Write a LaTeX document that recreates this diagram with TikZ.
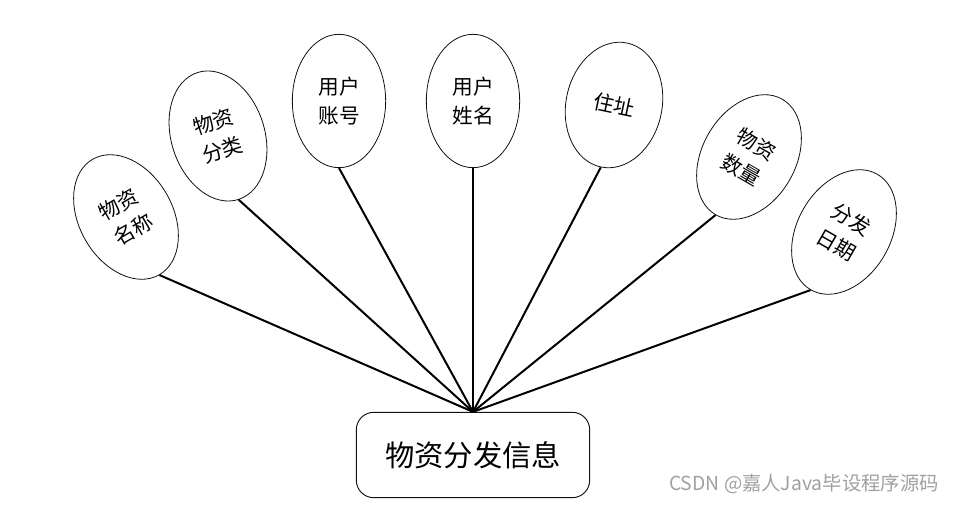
\documentclass[tikz,border=0pt]{standalone}
\usepackage{fontspec}
\newfontfamily\cjk{Noto Sans CJK SC}
\usetikzlibrary{shapes.geometric, positioning}
\definecolor{cline}{HTML}{111111}
\definecolor{cmark}{HTML}{A0A0A0}
\tikzset{
  every picture/.style={x=0.75pt, y=-0.75pt},
  attr/.style={ellipse, draw=cline, line width=0.6pt, fill=white, inner sep=0pt,
    minimum width=70pt, minimum height=100pt, align=center,
    font=\cjk\fontsize{15.5}{22}\selectfont},
  entity/.style={draw=cline, line width=0.7pt, rounded corners=13pt, fill=white,
    minimum width=175pt, minimum height=64pt, font=\cjk\fontsize{22}{26}\selectfont},
  link/.style={draw=black, line width=1.5pt},
  wmark/.style={font=\cjk\fontsize{14.5}{17}\selectfont, text=cmark, inner sep=0pt},
}

\begin{document}
\begin{tikzpicture}
  \useasboundingbox (0,0) rectangle (953,505);
  % central entity
  \node[entity] (info) at (473,455) {物资分发信息};
  % attributes, left to right
  \node[attr, rotate=30]  (name)  at (126,217) {物资\\名称};
  \node[attr, rotate=18]  (kind)  at (218,136) {物资\\分类};
  \node[attr]             (acct)  at (339,101) {用户\\账号};
  \node[attr]             (uname) at (473,101) {用户\\姓名};
  \node[attr, rotate=-12, minimum width=72pt, minimum height=95pt] (addr) at (614,105) {住址};
  \node[attr, rotate=-30] (qty)   at (749,157) {物资\\数量};
  \node[attr, rotate=-30] (date)  at (844,232) {分发\\日期};
  % links to the entity
  \foreach \a in {name, kind, acct, uname, addr, qty, date}
    \draw[link] (\a.south) -- (info.north);
  \node[wmark, anchor=east] (wm) at (939,484) {CSDN @嘉人Java毕设程序源码};
\end{tikzpicture}
\end{document}
